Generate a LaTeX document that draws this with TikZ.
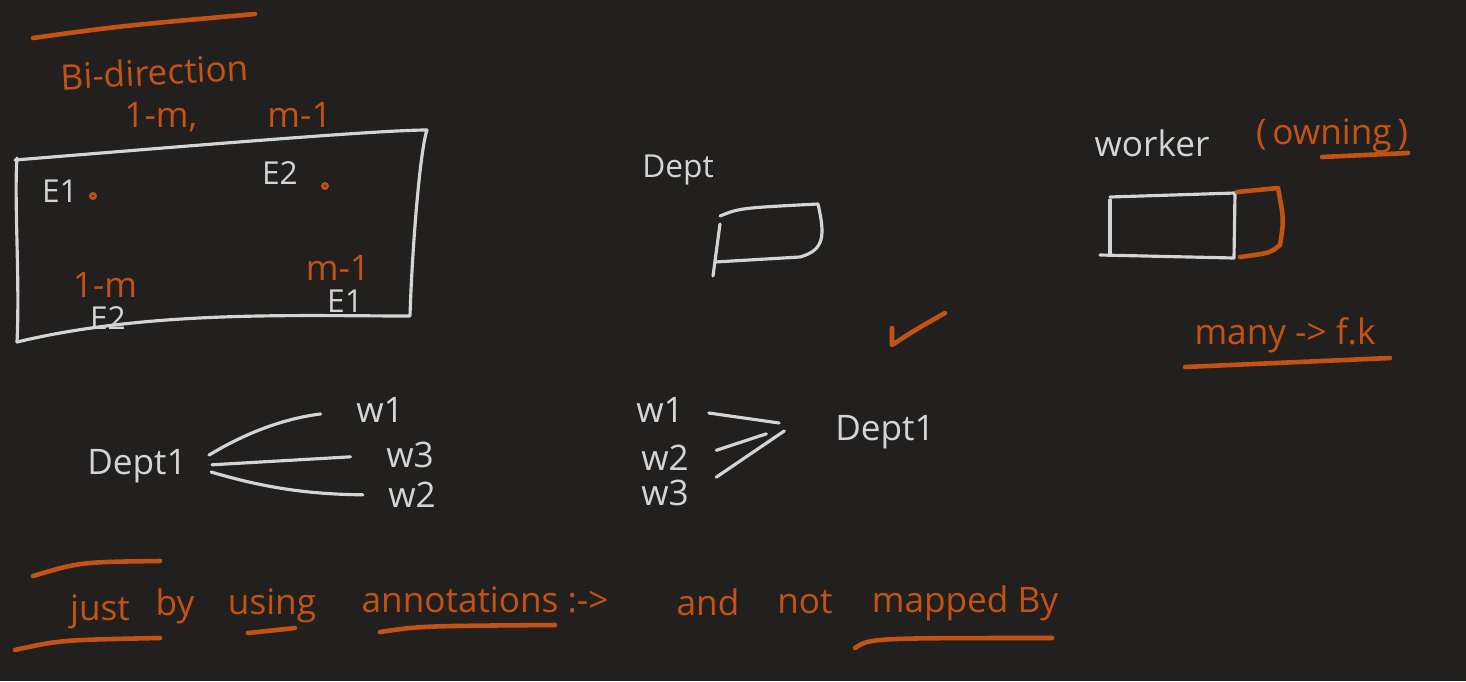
\documentclass[tikz,border=0pt]{standalone}
\usepackage{fontspec}
\setmainfont{Open Sans}
\usepackage{tikz}
\definecolor{board}{RGB}{33,32,31}
\definecolor{ink}{RGB}{212,212,212}
\definecolor{pen}{RGB}{196,82,20}
\tikzset{
  chalk/.style={draw=ink, line width=0.9pt, line cap=round, line join=round},
  marker/.style={draw=pen, line width=1.3pt, line cap=round, line join=round},
  wtext/.style={text=ink, inner sep=1pt},
  otext/.style={text=pen, inner sep=1pt}
}

\begin{document}
\begin{tikzpicture}[x=0.01cm, y=-0.01cm]

        %Board
        \fill [board] (0,0) rectangle (1466,681);
        %Header
        \draw [marker] (33,38) .. controls (120,26) .. (255,14);
        \node [otext, rotate=3] (bidir) at (155,72) {Bi-direction};
        \node [otext] (ratio) at (228,117) {1-m,\qquad m-1};
        %Entity box
        \draw [chalk] (15,160) .. controls (200,145) and (380,130) .. (427,130)
                      .. controls (420,150) and (412,250) .. (410,316)
                      .. controls (300,316) and (150,310) .. (17,342)
                      .. controls (20,280) and (14,200) .. (17,158);
        \node [wtext] (eone) at (60,191) {\small E1};
        \node [wtext] (etwo) at (280,173) {\small E2};
        \draw [pen, thick] (93,196) circle (2.5);
        \draw [pen, thick] (325,186) circle (2.5);
        \node [otext] (onem) at (105,285) {1-m};
        \node [wtext] (etwob) at (108,318) {\small E2};
        \node [otext] (mone) at (338,268) {m-1};
        \node [wtext] (eoneb) at (345,301) {\small E1};
        %Dept
        \node [wtext] (dept) at (678,170) {\small Dept};
        \draw [chalk] (720,216) .. controls (740,208) .. (818,204)
                      .. controls (825,235) and (825,250) .. (800,257)
                      -- (715,262);
        \draw [chalk] (720,224) -- (713,276);
        %Check
        \draw [marker] (892,328) -- (892,345) .. controls (915,330) .. (945,313);
        %Worker
        \node [wtext] (worker) at (1152,143) {worker};
        \node [otext] (owning) at (1332,136) {(\,owning\,)};
        \draw [marker] (1322,157) -- (1408,153);
        \draw [chalk] (1110,197) -- (1235,193) -- (1234,258) -- (1100,255);
        \draw [chalk] (1110,200) -- (1110,255);
        \draw [marker] (1237,192) -- (1278,188) .. controls (1284,220) .. (1280,245)
                       .. controls (1270,253) .. (1240,257);
        \node [otext] (manyfk) at (1285,335) {many -> f.k};
        \draw [marker] (1185,367) -- (1390,358);
        %One to many
        \node [wtext] (deptl) at (137,466) {Dept1};
        \node [wtext] (wla) at (380,410) {w1};
        \node [wtext] (wlc) at (410,455) {w3};
        \node [wtext] (wlb) at (412,495) {w2};
        \draw [chalk, shorten <=6pt, shorten >=9pt] (deptl.east) to [bend left=12] (wla.west);
        \draw [chalk, shorten <=6pt, shorten >=9pt] (deptl.east) to (wlc.west);
        \draw [chalk, shorten <=6pt, shorten >=6pt] (deptl.east) to [bend right=8] (wlb.west);
        %Many to one
        \node [wtext] (wra) at (660,410) {w1};
        \node [wtext] (wrb) at (665,458) {w2};
        \node [wtext] (wrc) at (665,493) {w3};
        \node [wtext] (deptr) at (885,432) {Dept1};
        \draw [chalk, shorten <=6pt, shorten >=4pt] (wra.east) -- ([shift={(-38,-7)}]deptr.west);
        \draw [chalk, shorten <=7pt, shorten >=8pt] (wrb.east) -- ([shift={(-38,-7)}]deptr.west);
        \draw [chalk, shorten <=8pt, shorten >=3pt] (wrc.east) -- ([shift={(-38,-7)}]deptr.west);
        %Footer
        \draw [marker] (33,576) .. controls (80,562) .. (160,561);
        \node [otext] (just) at (100,612) {just};
        \node [otext] (by) at (175,606) {by};
        \node [otext] (using) at (272,606) {using};
        \node [otext] (annot) at (485,600) {annotations :->};
        \node [otext] (and) at (708,602) {and};
        \node [otext] (not) at (805,602) {not};
        \node [otext] (mapped) at (965,603) {mapped By};
        \draw [marker] (15,650) .. controls (60,640) .. (160,638);
        \draw [marker] (248,633) -- (295,628);
        \draw [marker] (380,632) .. controls (420,626) .. (555,625);
        \draw [marker] (855,648) .. controls (870,638) .. (1052,638);
      \end{tikzpicture}
\end{document}
